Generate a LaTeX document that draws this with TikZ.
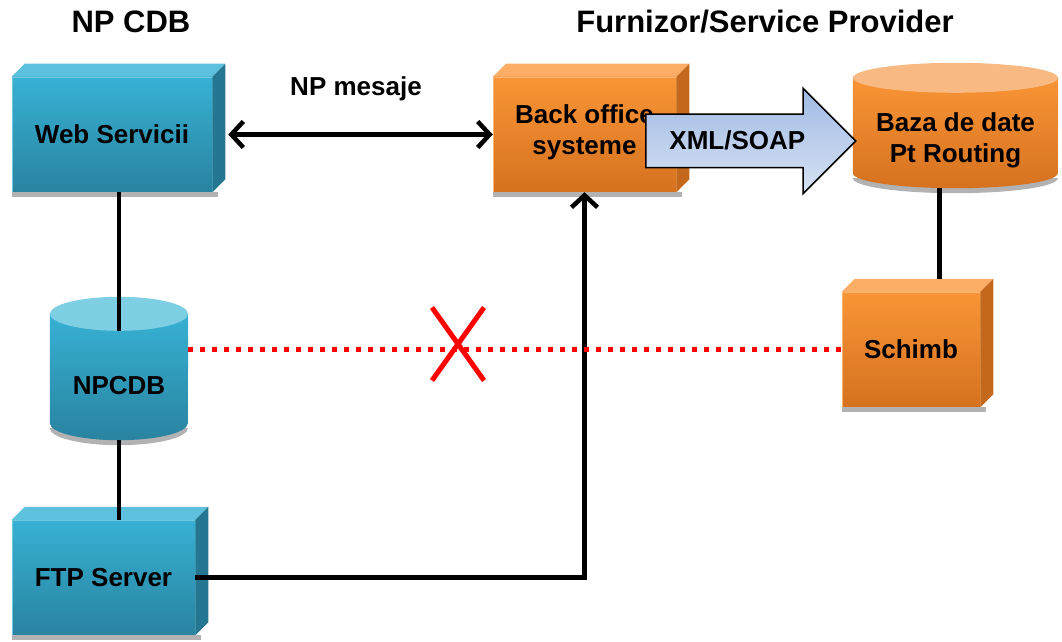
\documentclass[tikz,border=0pt]{standalone}
\usepackage{fontspec}
\setmainfont{Liberation Sans}
\usetikzlibrary{arrows.meta, shapes.arrows, shapes.misc, backgrounds}
\definecolor{npblue}{RGB}{55,177,212}
\definecolor{npbluedark}{RGB}{41,131,160}
\definecolor{npbluetop}{RGB}{93,192,221}
\definecolor{npblueside}{RGB}{36,118,145}
\definecolor{npbluecap}{RGB}{126,207,227}
\definecolor{sporange}{RGB}{249,149,54}
\definecolor{sporangedark}{RGB}{214,113,31}
\definecolor{sporangetop}{RGB}{251,173,102}
\definecolor{sporangeside}{RGB}{196,104,30}
\definecolor{sporangecap}{RGB}{249,185,130}
\definecolor{soapblue}{RGB}{160,186,228}
\definecolor{soapbluelight}{RGB}{215,226,243}
\tikzset{bluebox/.style={rectangle, top color=npblue, bottom color=npbluedark, draw=npblue!70!white, line width=0.5pt, inner sep=0pt, align=center},
orangebox/.style={rectangle, top color=sporange, bottom color=sporangedark, draw=sporange!70!white, line width=0.5pt, inner sep=0pt, align=center}}

\begin{document}
\begin{tikzpicture}[
        x=1pt, y=1pt,
        font=\fontsize{26}{31}\selectfont\bfseries,
        titlenode/.style={font=\fontsize{31}{36}\selectfont\bfseries, anchor=base},
        cylnode/.style={rectangle, inner sep=0pt, align=center},
        soaparrow/.style={single arrow, draw=black, line width=1.5pt, top color=soapblue, bottom color=soapbluelight, minimum height=210pt, single arrow head extend=26pt, text height=18pt, text depth=0pt, inner ysep=17pt, inner xsep=6pt},
        link/.style={line width=4.5pt},
        barb/.style={line width=4.5pt, arrows={-{Straight Barb[length=12pt, width=26pt]}}},
        nolink/.style={red, line width=5pt, dash pattern=on 5pt off 7pt},
        stopmark/.style={cross out, draw=red, line width=5pt, minimum width=47pt, minimum height=68pt, inner sep=0pt}
    ]
        \useasboundingbox (0,0) rectangle (1062,641);
        % Titles
        \node[titlenode] (titlecdb) at (131,608) {NP CDB};
        \node[titlenode] (titlesp) at (765,608) {Furnizor/Service Provider};
        % Boxes
        \node[bluebox, minimum width=200pt, minimum height=115pt] (web) at (112,506.5) {Web Servicii};
        \node[bluebox, minimum width=183pt, minimum height=115pt] (ftp) at (103.5,63.5) {FTP Server};
        \node[orangebox, minimum width=183pt, minimum height=115pt, text depth=10pt] (back) at (584.5,506.5) {Back office\\systeme};
        \node[orangebox, minimum width=138pt, minimum height=115pt] (schimb) at (911,291.5) {Schimb};
        % Cylinders
        \node[cylnode, minimum width=138pt, minimum height=109pt] (npcdb) at (119,255.5) {NPCDB};
        \node[cylnode, minimum width=205pt, minimum height=95pt] (baza) at (955.5,500.5) {Baza de date\\Pt Routing};
        \begin{scope}[on background layer]
            \foreach \n/\ctop/\cbot/\ccap/\rx/\ry in {npcdb/npblue/npbluedark/npbluecap/69/17, baza/sporange/sporangedark/sporangecap/102.5/15} {
                \fill[black!30] ([yshift=\ry pt-5pt]\n.south west) arc[start angle=180, end angle=360, x radius=\rx, y radius=\ry];
                \shade[top color=\ctop, bottom color=\cbot] ([yshift=\ry pt]\n.north west) -- ([yshift=\ry pt]\n.south west) arc[start angle=180, end angle=360, x radius=\rx, y radius=\ry] -- ([yshift=\ry pt]\n.north east) -- cycle;
                \fill[\ccap] ([yshift=\ry pt]\n.north) ellipse [x radius=\rx, y radius=\ry];
            }
        \end{scope}
        % 3D faces
        \foreach \n/\ctop/\cside in {web/npbluetop/npblueside, ftp/npbluetop/npblueside, back/sporangetop/sporangeside, schimb/sporangetop/sporangeside} {
            \fill[\ctop] (\n.north west) -- ++(13,13) -- ([shift={(13,13)}]\n.north east) -- (\n.north east) -- cycle;
            \fill[\cside] (\n.north east) -- ++(13,13) -- ([shift={(13,13)}]\n.south east) -- (\n.south east) -- cycle;
            \fill[black!30] (\n.south west) rectangle ([shift={(6,-5)}]\n.south east);
        }
        % XML/SOAP arrow
        \node[soaparrow, anchor=tail] (xml) at (645,500) {XML/SOAP};
        % Links
        \draw[link] (npcdb.north |- web.south) -- (npcdb.north);
        \draw[link] (npcdb.south) -- (npcdb.south |- ftp.north);
        \draw[link] ([xshift=-16pt]baza.south) -- ([xshift=-16pt, yshift=13pt]baza.south |- schimb.north);
        \draw[barb, {Straight Barb[length=12pt, width=26pt]}-{Straight Barb[length=12pt, width=26pt]}] ([xshift=16pt]web.east) -- (back.west);
        \node[anchor=base] (msg) at (356,545) {NP mesaje};
        \draw[barb] (ftp.east) -| (back.south);
        % Blocked link
        \draw[nolink] (npcdb.east |- schimb.west) -- (schimb.west);
        \node[stopmark] (stop) at (458,297) {};
    \end{tikzpicture}
\end{document}
